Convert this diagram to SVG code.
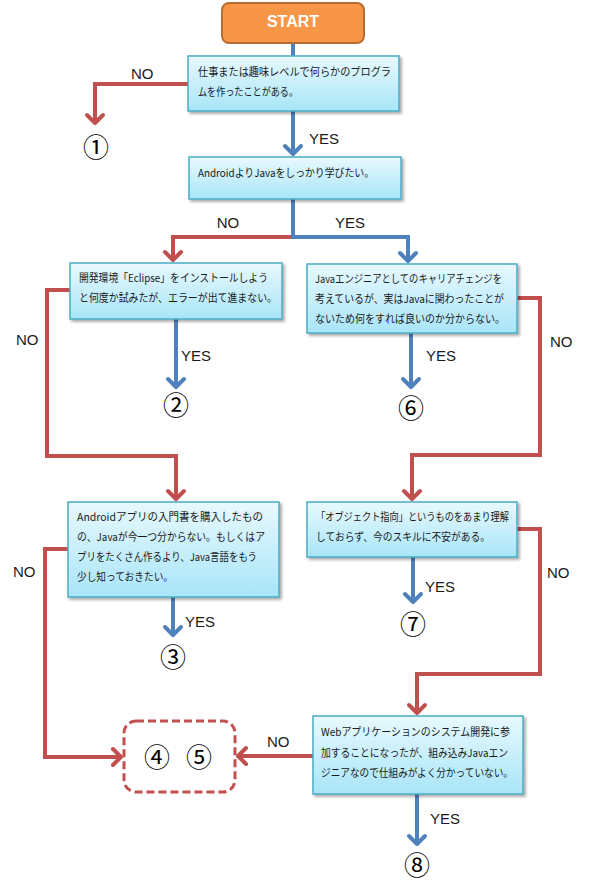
<svg xmlns="http://www.w3.org/2000/svg" width="598" height="886" viewBox="0 0 598 886">
<style>
.box{fill:url(#bg);stroke:#4BACC6;stroke-width:1.5;filter:url(#sh)}
.t{font-family:"Noto Sans CJK JP","Noto Sans",sans-serif;font-size:11px;fill:#1a1a1a}
.lbl{font-family:"Liberation Sans",Arial,sans-serif;font-size:15px;fill:#1a1a1a}
.num{font-family:"Noto Sans CJK JP",sans-serif;font-size:26px;fill:#000;text-anchor:middle}
.r{fill:none;stroke:#C0504D;stroke-width:4}
.b{fill:none;stroke:#4F81BD;stroke-width:4}
</style>
<defs>
<linearGradient id="bg" x1="0" y1="0" x2="0" y2="1">
<stop offset="0" stop-color="#E8F9FE"/>
<stop offset="1" stop-color="#A8E5F8"/>
</linearGradient>
<filter id="sh" x="-10%" y="-10%" width="120%" height="130%">
<feDropShadow dx="2" dy="2" stdDeviation="1.5" flood-color="#000" flood-opacity="0.35"/>
</filter>
<marker id="ar" viewBox="-12 -11 15 22" markerWidth="15" markerHeight="22" refX="0" refY="0" orient="auto" markerUnits="userSpaceOnUse">
<path d="M-9,-8 L-1,0 L-9,8" fill="none" stroke="#C0504D" stroke-width="4" stroke-linejoin="round" stroke-linecap="round"/>
</marker>
<marker id="ab" viewBox="-12 -11 15 22" markerWidth="15" markerHeight="22" refX="0" refY="0" orient="auto" markerUnits="userSpaceOnUse">
<path d="M-9,-8 L-1,0 L-9,8" fill="none" stroke="#4F81BD" stroke-width="4" stroke-linejoin="round" stroke-linecap="round"/>
</marker>
</defs>
<rect width="598" height="886" fill="#fff"/>

<g id="connectors">
<path class="b" d="M293,43 V56"/>
<path class="b" d="M293,111 V155" marker-end="url(#ab)"/>
<path class="r" d="M188,84 H95 V124" marker-end="url(#ar)"/>
<path class="b" d="M293,199 V237"/>
<path class="r" d="M293,237 H173 V261" marker-end="url(#ar)"/>
<path class="b" d="M291,237 H408 V262" marker-end="url(#ab)"/>
<path class="b" d="M176,319 V388" marker-end="url(#ab)"/>
<path class="r" d="M70,290 H47 V456 H176 V500" marker-end="url(#ar)"/>
<path class="b" d="M411,333 V388" marker-end="url(#ab)"/>
<path class="r" d="M517,298 H540 V455 H412 V500" marker-end="url(#ar)"/>
<path class="b" d="M173,597 V636" marker-end="url(#ab)"/>
<path class="r" d="M68,549 H45 V757 H122" marker-end="url(#ar)"/>
<path class="b" d="M413,557 V603" marker-end="url(#ab)"/>
<path class="r" d="M517,529 H540 V674 H417 V714" marker-end="url(#ar)"/>
<path class="b" d="M417,794 V845" marker-end="url(#ab)"/>
<path class="r" d="M313,756 H237" marker-end="url(#ar)"/>
</g>

<g id="labels">
<text class="lbl" x="131" y="79">NO</text>
<text class="lbl" x="309" y="144">YES</text>
<text class="lbl" x="228" y="228" text-anchor="middle">NO</text>
<text class="lbl" x="350" y="228" text-anchor="middle">YES</text>
<text class="lbl" x="16" y="345">NO</text>
<text class="lbl" x="181" y="361">YES</text>
<text class="lbl" x="550" y="347">NO</text>
<text class="lbl" x="426" y="361">YES</text>
<text class="lbl" x="13" y="577">NO</text>
<text class="lbl" x="185" y="627">YES</text>
<text class="lbl" x="547" y="578">NO</text>
<text class="lbl" x="425" y="592">YES</text>
<text class="lbl" x="267" y="747">NO</text>
<text class="lbl" x="430" y="824">YES</text>
</g>

<g id="start">
<rect x="222" y="3" width="142" height="40" rx="7" fill="#F79646" stroke="#B66D31" stroke-width="2"/>
<text x="293" y="27" text-anchor="middle" font-family="'Liberation Sans',Arial,sans-serif" font-weight="bold" font-size="16" fill="#fff">START</text>
</g>

<g id="q1">
<rect class="box" x="188" y="56" width="211" height="55"/>
<text class="t" x="198" y="76" textLength="193" lengthAdjust="spacingAndGlyphs">仕事または趣味レベルで何らかのプログラ</text>
<text class="t" x="198" y="96" textLength="100" lengthAdjust="spacingAndGlyphs">ムを作ったことがある。</text>
</g>

<g id="q2">
<rect class="box" x="189" y="157" width="212" height="42"/>
<text class="t" x="198" y="177" textLength="176" lengthAdjust="spacingAndGlyphs">AndroidよりJavaをしっかり学びたい。</text>
</g>

<g id="q3">
<rect class="box" x="70" y="263" width="212" height="56"/>
<text class="t" x="79" y="282" textLength="189" lengthAdjust="spacingAndGlyphs">開発環境「Eclipse」をインストールしよう</text>
<text class="t" x="79" y="302" textLength="198" lengthAdjust="spacingAndGlyphs">と何度か試みたが、エラーが出て進まない。</text>
</g>

<g id="q4">
<rect class="box" x="307" y="264" width="210" height="69"/>
<text class="t" x="315" y="283" textLength="187" lengthAdjust="spacingAndGlyphs">Javaエンジニアとしてのキャリアチェンジを</text>
<text class="t" x="315" y="303" textLength="189" lengthAdjust="spacingAndGlyphs">考えているが、実はJavaに関わったことが</text>
<text class="t" x="315" y="323" textLength="190" lengthAdjust="spacingAndGlyphs">ないため何をすれば良いのか分からない。</text>
</g>

<g id="q5">
<rect class="box" x="68" y="502" width="211" height="95"/>
<text class="t" x="77" y="521" textLength="186" lengthAdjust="spacingAndGlyphs">Androidアプリの入門書を購入したもの</text>
<text class="t" x="77" y="541" textLength="188" lengthAdjust="spacingAndGlyphs">の、Javaが今一つ分からない。もしくはア</text>
<text class="t" x="77" y="561" textLength="180" lengthAdjust="spacingAndGlyphs">プリをたくさん作るより、Java言語をもう</text>
<text class="t" x="77" y="581" textLength="96" lengthAdjust="spacingAndGlyphs">少し知っておきたい。</text>
</g>

<g id="q6">
<rect class="box" x="307" y="502" width="210" height="55"/>
<text class="t" x="316" y="521" textLength="193" lengthAdjust="spacingAndGlyphs">「オブジェクト指向」というものをあまり理解</text>
<text class="t" x="316" y="541" textLength="174" lengthAdjust="spacingAndGlyphs">しておらず、今のスキルに不安がある。</text>
</g>

<g id="q7">
<rect class="box" x="313" y="716" width="210" height="78"/>
<text class="t" x="321" y="736" textLength="189" lengthAdjust="spacingAndGlyphs">Webアプリケーションのシステム開発に参</text>
<text class="t" x="321" y="757" textLength="187" lengthAdjust="spacingAndGlyphs">加することになったが、組み込みJavaエン</text>
<text class="t" x="321" y="777" textLength="192" lengthAdjust="spacingAndGlyphs">ジニアなので仕組みがよく分かっていない。</text>
</g>

<g id="r1"><text class="num" x="96" y="157">①</text></g>
<g id="r2"><text class="num" x="176" y="415">②</text></g>
<g id="r3"><text class="num" x="173" y="667">③</text></g>
<g id="r6"><text class="num" x="411" y="418">⑥</text></g>
<g id="r7"><text class="num" x="413" y="634">⑦</text></g>
<g id="r8"><text class="num" x="417" y="875">⑧</text></g>
<g id="r45">
<rect x="124" y="721" width="111" height="71" rx="12" fill="none" stroke="#C0504D" stroke-width="3" stroke-dasharray="8 4"/>
<text class="num" x="157" y="767">④</text>
<text class="num" x="199" y="767">⑤</text>
</g>
</svg>
